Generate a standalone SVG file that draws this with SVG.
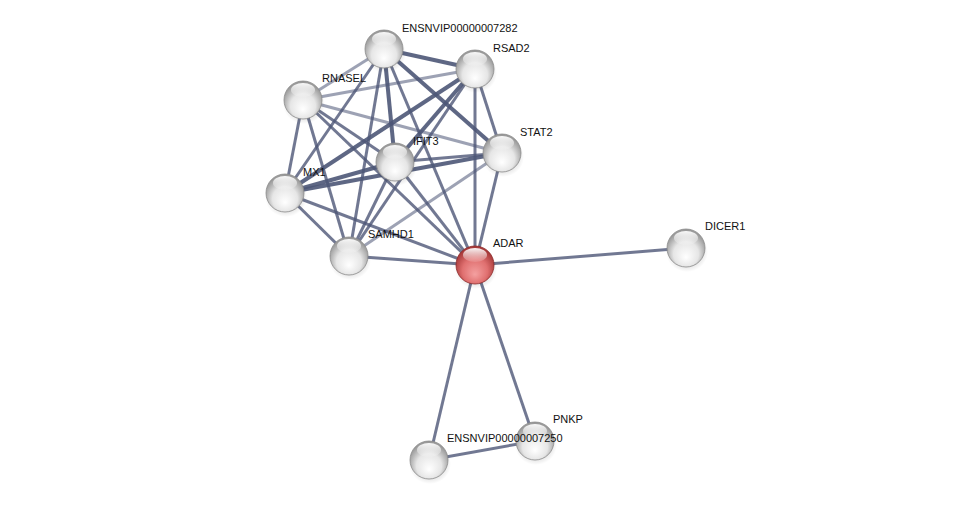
<svg xmlns="http://www.w3.org/2000/svg" width="976" height="505" viewBox="0 0 976 505">
<defs>
<radialGradient id="gw" cx="50%" cy="60%" r="55%" fx="50%" fy="75%">
<stop offset="0" stop-color="#ffffff"/>
<stop offset="0.6" stop-color="#e6e6e6"/>
<stop offset="1" stop-color="#9a9a9a"/>
</radialGradient>
<radialGradient id="gr" cx="50%" cy="60%" r="55%" fx="50%" fy="75%">
<stop offset="0" stop-color="#f4a0a0"/>
<stop offset="0.6" stop-color="#e07070"/>
<stop offset="1" stop-color="#a83a3a"/>
</radialGradient>
<linearGradient id="hl" x1="0" y1="0" x2="0" y2="1">
<stop offset="0" stop-color="#ffffff" stop-opacity="0.95"/>
<stop offset="1" stop-color="#ffffff" stop-opacity="0.1"/>
</linearGradient>
<radialGradient id="sh" cx="50%" cy="50%" r="50%">
<stop offset="0" stop-color="#000" stop-opacity="0.35"/>
<stop offset="1" stop-color="#000" stop-opacity="0"/>
</radialGradient>
<g id="wnode">
<ellipse cx="1" cy="4" rx="21" ry="20" fill="url(#sh)"/>
<circle r="19" fill="url(#gw)" stroke="#8a8a8a" stroke-width="0.8"/>
<ellipse cx="0" cy="-10" rx="12" ry="7" fill="url(#hl)"/>
</g>
<g id="rnode">
<ellipse cx="1" cy="4" rx="21" ry="20" fill="url(#sh)"/>
<circle r="19" fill="url(#gr)" stroke="#8c2a2a" stroke-width="0.8"/>
<ellipse cx="0" cy="-10" rx="12" ry="7" fill="url(#hl)"/>
</g>
</defs>
<style>
.e{stroke:#4d5677;stroke-width:3;fill:none;stroke-opacity:0.8}
.t{stroke-width:4;stroke-opacity:0.9}
.l{stroke-opacity:0.55}
.lab{font-family:"Liberation Sans",Arial,sans-serif;font-size:11px;fill:#111}
</style>
<rect width="976" height="505" fill="#ffffff"/>
<g id="connectors">
<line class="e t" x1="384" y1="49" x2="475" y2="69"/>
<line class="e l" x1="384" y1="49" x2="303" y2="100"/>
<line class="e" x1="384" y1="49" x2="285" y2="193"/>
<line class="e t" x1="384" y1="49" x2="395" y2="162"/>
<line class="e" x1="384" y1="49" x2="349" y2="256"/>
<line class="e t" x1="384" y1="49" x2="502" y2="153"/>
<line class="e" x1="384" y1="49" x2="475" y2="265"/>
<line class="e l" x1="475" y1="69" x2="303" y2="100"/>
<line class="e t" x1="475" y1="69" x2="285" y2="193"/>
<line class="e t" x1="475" y1="69" x2="395" y2="162"/>
<line class="e" x1="475" y1="69" x2="502" y2="153"/>
<line class="e" x1="475" y1="69" x2="475" y2="265"/>
<line class="e" x1="475" y1="69" x2="349" y2="256"/>
<line class="e" x1="303" y1="100" x2="285" y2="193"/>
<line class="e" x1="303" y1="100" x2="395" y2="162"/>
<line class="e l" x1="303" y1="100" x2="502" y2="153"/>
<line class="e" x1="303" y1="100" x2="349" y2="256"/>
<line class="e" x1="303" y1="100" x2="475" y2="265"/>
<line class="e t" x1="395" y1="162" x2="285" y2="193"/>
<line class="e" x1="395" y1="162" x2="502" y2="153"/>
<line class="e" x1="395" y1="162" x2="349" y2="256"/>
<line class="e" x1="395" y1="162" x2="475" y2="265"/>
<line class="e t" x1="285" y1="193" x2="502" y2="153"/>
<line class="e" x1="285" y1="193" x2="349" y2="256"/>
<line class="e" x1="285" y1="193" x2="475" y2="265"/>
<line class="e" x1="502" y1="153" x2="475" y2="265"/>
<line class="e l" x1="502" y1="153" x2="349" y2="256"/>
<line class="e" x1="349" y1="256" x2="475" y2="265"/>
<line class="e" x1="475" y1="265" x2="686" y2="248"/>
<line class="e" x1="475" y1="265" x2="535" y2="441"/>
<line class="e" x1="475" y1="265" x2="429" y2="460"/>
<line class="e" x1="535" y1="441" x2="429" y2="460"/>
</g>
<g id="ENSNVIP00000007282"><use href="#wnode" x="384" y="49"/><text class="lab" x="402" y="32">ENSNVIP00000007282</text></g>
<g id="RSAD2"><use href="#wnode" x="475" y="69"/><text class="lab" x="493" y="52">RSAD2</text></g>
<g id="RNASEL"><use href="#wnode" x="303" y="100"/><text class="lab" x="322" y="82">RNASEL</text></g>
<g id="STAT2"><use href="#wnode" x="502" y="153"/><text class="lab" x="520" y="136">STAT2</text></g>
<g id="IFIT3"><use href="#wnode" x="395" y="162"/><text class="lab" x="413" y="145">IFIT3</text></g>
<g id="MX1"><use href="#wnode" x="285" y="193"/><text class="lab" x="303" y="176">MX1</text></g>
<g id="SAMHD1"><use href="#wnode" x="349" y="256"/><text class="lab" x="368" y="238">SAMHD1</text></g>
<g id="DICER1"><use href="#wnode" x="686" y="248"/><text class="lab" x="705" y="230">DICER1</text></g>
<g id="PNKP"><use href="#wnode" x="535" y="441"/><text class="lab" x="553" y="423">PNKP</text></g>
<g id="ENSNVIP00000007250"><use href="#wnode" x="429" y="460"/><text class="lab" x="447" y="442">ENSNVIP00000007250</text></g>
<g id="ADAR"><use href="#rnode" x="475" y="265"/><text class="lab" x="493" y="247">ADAR</text></g>
</svg>
